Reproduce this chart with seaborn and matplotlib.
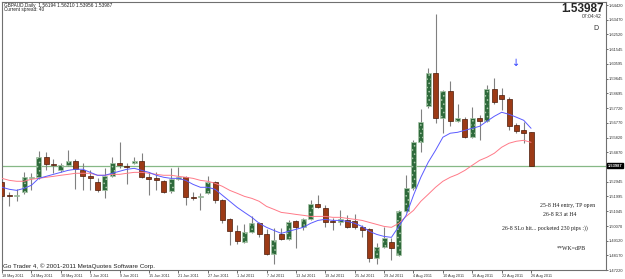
import numpy as np
import pandas as pd
import matplotlib
matplotlib.use("Agg")
import matplotlib.pyplot as plt
import seaborn as sns

# --- GBPAUD daily, 18 May 2011 .. 26 Aug 2011 ---
opens = [1.5291, 1.5207, 1.5200, 1.5226, 1.5317, 1.5324, 1.5454, 1.5408, 1.5369, 1.5402,
         1.5428, 1.5369, 1.5330, 1.5291, 1.5239, 1.5330, 1.5415, 1.5395, 1.5415, 1.5428,
         1.5324, 1.5317, 1.5298, 1.5233, 1.5311, 1.5324, 1.5194, 1.5194, 1.5220, 1.5291,
         1.5174, 1.5051, 1.4973, 1.4901, 1.4966, 1.5025, 1.4953, 1.4823, 1.4953, 1.4921,
         1.5038, 1.4999, 1.5051, 1.5148, 1.5122, 1.5038, 1.5031, 1.5044, 1.5038, 1.4999,
         1.4986, 1.4797, 1.4869, 1.4901, 1.4817, 1.5103, 1.5252, 1.5551, 1.5785, 1.6000,
         1.5707, 1.5883, 1.5688, 1.5701, 1.5584, 1.5707, 1.5688, 1.5896, 1.5857, 1.5831,
         1.5662, 1.5629, 1.56194]
highs = [1.5317, 1.5226, 1.5246, 1.5356, 1.5350, 1.5493, 1.5486, 1.5441, 1.5415, 1.5499,
         1.5441, 1.5415, 1.5369, 1.5317, 1.5382, 1.5454, 1.5551, 1.5415, 1.5454, 1.5480,
         1.5356, 1.5356, 1.5304, 1.5382, 1.5389, 1.5330, 1.5226, 1.5220, 1.5330, 1.5298,
         1.5181, 1.5057, 1.5012, 1.5018, 1.5070, 1.5031, 1.4986, 1.4992, 1.4992, 1.5044,
         1.5044, 1.5057, 1.5174, 1.5207, 1.5142, 1.5057, 1.5109, 1.5077, 1.5083, 1.5012,
         1.4992, 1.4895, 1.4999, 1.4927, 1.5109, 1.5337, 1.5564, 1.5766, 1.6032, 1.6383,
         1.5889, 1.5948, 1.5798, 1.5714, 1.5779, 1.5727, 1.5922, 1.5967, 1.5902, 1.5844,
         1.5675, 1.5681, 1.56210]
lows = [1.5174, 1.5135, 1.5168, 1.5213, 1.5239, 1.5311, 1.5369, 1.5350, 1.5356, 1.5395,
        1.5246, 1.5239, 1.5239, 1.5226, 1.5187, 1.5324, 1.5382, 1.5278, 1.5408, 1.5317,
        1.5207, 1.5239, 1.5220, 1.5220, 1.5304, 1.5142, 1.5174, 1.5109, 1.5213, 1.5155,
        1.5025, 1.4882, 1.4888, 1.4895, 1.4960, 1.4934, 1.4817, 1.4758, 1.4914, 1.4914,
        1.4862, 1.4979, 1.5044, 1.5122, 1.4999, 1.4979, 1.5012, 1.4992, 1.4986, 1.4934,
        1.4771, 1.4758, 1.4862, 1.4784, 1.4810, 1.5096, 1.5239, 1.5486, 1.5772, 1.5675,
        1.5610, 1.5655, 1.5681, 1.5577, 1.5577, 1.5564, 1.5681, 1.5798, 1.5759, 1.5629,
        1.5610, 1.5545, 1.53956]
closes = [1.5200, 1.5200, 1.5207, 1.5324, 1.5324, 1.5454, 1.5408, 1.5402, 1.5402, 1.5428,
          1.5376, 1.5330, 1.5317, 1.5239, 1.5330, 1.5415, 1.5402, 1.5389, 1.5428, 1.5324,
          1.5311, 1.5304, 1.5226, 1.5311, 1.5324, 1.5194, 1.5187, 1.5200, 1.5291, 1.5174,
          1.5044, 1.4973, 1.4908, 1.4966, 1.5025, 1.4953, 1.4823, 1.4914, 1.4921, 1.5031,
          1.4999, 1.5051, 1.5148, 1.5129, 1.5031, 1.5031, 1.5051, 1.4999, 1.4999, 1.4979,
          1.4797, 1.4869, 1.4927, 1.4862, 1.5103, 1.5252, 1.5551, 1.5681, 1.6000, 1.5707,
          1.5883, 1.5688, 1.5707, 1.5584, 1.5707, 1.5688, 1.5896, 1.5811, 1.5831, 1.5655,
          1.5623, 1.5610, 1.53987]

# moving averages (blue = fast, red = slow)
ma_fast = [1.5259, 1.5246, 1.5239, 1.5252, 1.5272, 1.5317, 1.5330, 1.5343, 1.5356, 1.5369,
           1.5376, 1.5376, 1.5356, 1.5337, 1.5337, 1.5350, 1.5363, 1.5376, 1.5382, 1.5369,
           1.5356, 1.5337, 1.5324, 1.5317, 1.5317, 1.5304, 1.5278, 1.5259, 1.5259, 1.5246,
           1.5207, 1.5168, 1.5129, 1.5096, 1.5064, 1.5025, 1.4999, 1.4979, 1.4960, 1.4973,
           1.4986, 1.4999, 1.5025, 1.5044, 1.5051, 1.5044, 1.5044, 1.5038, 1.5025, 1.5005,
           1.4973, 1.4953, 1.4940, 1.4934, 1.5005, 1.5077, 1.5207, 1.5324, 1.5421, 1.5499,
           1.5584, 1.5610, 1.5616, 1.5629, 1.5642, 1.5655, 1.5688, 1.5720, 1.5746, 1.5733,
           1.5714, 1.5694, 1.5642]
ma_slow = [1.5317, 1.5304, 1.5298, 1.5298, 1.5311, 1.5317, 1.5324, 1.5330, 1.5337, 1.5343,
           1.5350, 1.5350, 1.5350, 1.5337, 1.5337, 1.5343, 1.5343, 1.5350, 1.5356, 1.5356,
           1.5350, 1.5343, 1.5337, 1.5337, 1.5330, 1.5324, 1.5317, 1.5304, 1.5298, 1.5285,
           1.5265, 1.5239, 1.5220, 1.5200, 1.5187, 1.5168, 1.5135, 1.5116, 1.5096, 1.5090,
           1.5083, 1.5077, 1.5070, 1.5070, 1.5070, 1.5064, 1.5064, 1.5057, 1.5051, 1.5044,
           1.5031, 1.5018, 1.5005, 1.4999, 1.5025, 1.5070, 1.5109, 1.5168, 1.5213, 1.5259,
           1.5298, 1.5324, 1.5343, 1.5369, 1.5402, 1.5434, 1.5454, 1.5480, 1.5519, 1.5545,
           1.5558, 1.5564, 1.5551]

date_labels = ["18 May 2011", "24 May 2011", "30 May 2011", "3 Jun 2011", "9 Jun 2011",
               "15 Jun 2011", "21 Jun 2011", "27 Jun 2011", "1 Jul 2011", "7 Jul 2011",
               "13 Jul 2011", "19 Jul 2011", "25 Jul 2011", "29 Jul 2011", "4 Aug 2011",
               "10 Aug 2011", "16 Aug 2011", "22 Aug 2011", "26 Aug 2011"]
price_ticks = [1.64420, 1.63470, 1.62520, 1.61545, 1.60595, 1.59645, 1.58695, 1.57720,
               1.56770, 1.55820, 1.54870, 1.52945, 1.51995, 1.51045, 1.50070, 1.49120,
               1.48170, 1.47220]
last_price = 1.53987

notes = ["25-8 H4 entry, TP open", "26-8 R3 at H4",
         "26-8 SLo hit... pocketed 230 pips :))", "**WK=dPB"]

# --- style ---
sns.set_theme(style="white")
plt.rcParams['font.family'] = ['Liberation Sans', 'DejaVu Sans']
plt.rcParams['hatch.linewidth'] = 0.6

W, H = 625, 279
fig = plt.figure(figsize=(W / 100, H / 100), dpi=100)
fig.patch.set_facecolor("white")
ax = fig.add_axes([2 / W, 1 - 270 / H, 604 / W, 268 / H])


def fpos(x, y):
    return x / W, 1 - y / H


df = pd.DataFrame({"bar": np.arange(len(opens)), "open": opens, "high": highs,
                   "low": lows, "close": closes, "fast": ma_fast, "slow": ma_slow})
up = df["close"] >= df["open"]
body_lo = df[["open", "close"]].min(axis=1)
body_h = (df["close"] - df["open"]).abs().clip(lower=0.0005)

ax.axhline(last_price, color="#86b886", lw=0.9, zorder=1)

# wicks + bodies
ax.vlines(df["bar"], df["low"], df["high"], color="#808080", lw=0.8, zorder=2)
ax.bar(df["bar"][up], body_h[up], bottom=body_lo[up], width=0.68,
       color="#2e6a3b", edgecolor="#a9c6a9", hatch="....", lw=0.5, zorder=3)
ax.bar(df["bar"][~up], body_h[~up], bottom=body_lo[~up], width=0.68,
       color="#9c3a16", edgecolor="#4a1a08", lw=0.5, zorder=3)

sns.lineplot(data=df, x="bar", y="slow", color="#ff7a88", lw=0.7, ax=ax, zorder=4)
sns.lineplot(data=df, x="bar", y="fast", color="#5a5aff", lw=0.7, ax=ax, zorder=4)

ax.set_xlim(0, 82.2)
ax.set_ylim(1.4722, 1.6462)
ax.set_xlabel("")
ax.set_ylabel("")

ax.yaxis.tick_right()
ax.set_yticks(price_ticks)
ax.set_yticklabels([f"{p:.5f}" for p in price_ticks])
ax.tick_params(axis="y", labelsize=2.9, length=1.5, width=0.5, pad=0.6,
               colors="#303030", right=True, left=False)
ax.set_xticks(df["bar"][::4])
ax.set_xticklabels(date_labels, ha="left", fontsize=2.7)
ax.tick_params(axis="x", length=2, width=0.5, pad=1, colors="#303030", bottom=True)
for s in ax.spines.values():
    s.set_color("#707070")
    s.set_linewidth(0.8)

# current price tag on the price scale
ax.text(1.003, last_price, f"{last_price:.5f}", transform=ax.get_yaxis_transform(),
        ha="left", va="center", fontsize=2.9, color="white", weight="bold",
        bbox=dict(facecolor="black", edgecolor="black", pad=0.5))

# header / watermark texts
fig.text(*fpos(4, 5), "GBPAUD,Daily  1.56194 1.56210 1.53956 1.53987",
         fontsize=3.4, va="center", color="#202020")
fig.text(*fpos(4, 10), "Current spread: 40", fontsize=3.4, va="center", color="#202020")
fig.text(*fpos(604, 9), "1.53987", fontsize=8.5, weight="bold", ha="right", va="center")
fig.text(*fpos(602, 17), "07:04:42", fontsize=3.6, ha="right", va="center", color="#303030")
fig.text(*fpos(596, 28), "D", fontsize=5, ha="center", va="center", color="#303030")
fig.text(*fpos(3, 266), "Go Trader 4, \u00a9 2001-2011 MetaQuotes Software Corp.",
         fontsize=4.5, va="center", color="#202020")

# trade notes
for (x, y), t in zip([(568, 206), (560, 214), (545, 228), (571, 248)], notes):
    fig.text(*fpos(x, y), t, fontsize=4.2, ha="center", va="center",
             family="Liberation Serif", color="#202020")

ax.text(70, 1.6066, "\u2193", color="#2a3cff", fontsize=7, ha="center", va="center",
        family="DejaVu Sans")

fig.savefig("out.png", dpi=100, facecolor="white")
